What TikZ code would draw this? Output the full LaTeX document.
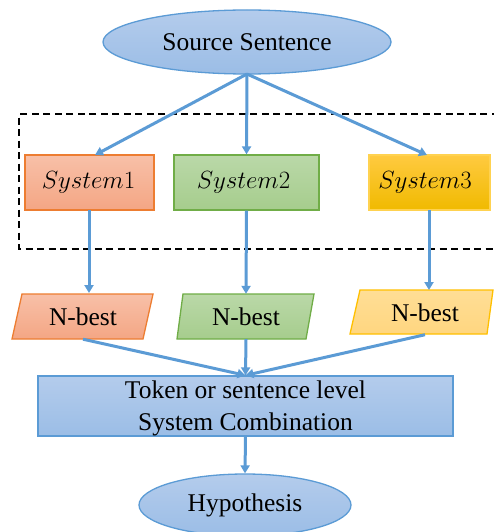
\documentclass[tikz,border=0pt]{standalone}
\usepackage{fontspec}
\setmainfont{Liberation Serif}
\usetikzlibrary{arrows.meta,shapes.geometric}
\definecolor{arr}{RGB}{91,155,213}
\definecolor{bluetop}{RGB}{180,204,236}
\definecolor{bluebot}{RGB}{155,189,230}
\definecolor{orline}{RGB}{237,125,49}
\definecolor{ortop}{RGB}{248,192,168}
\definecolor{orbot}{RGB}{244,166,132}
\definecolor{grline}{RGB}{112,173,71}
\definecolor{grtop}{RGB}{186,216,168}
\definecolor{grbot}{RGB}{166,205,141}
\definecolor{yeline}{RGB}{255,210,80}
\definecolor{yetop}{RGB}{255,202,64}
\definecolor{yebot}{RGB}{240,186,0}
\definecolor{ltline}{RGB}{255,192,0}
\definecolor{lttop}{RGB}{255,222,150}
\definecolor{ltbot}{RGB}{255,214,128}
\tikzset{
  conn/.style={draw=arr, line width=3pt, -{Triangle[length=8pt,width=9pt]}},
  blueshape/.style={draw=arr, line width=1.3pt, top color=bluetop, bottom color=bluebot},
  bigtxt/.style={font=\fontsize{25.5}{32}\selectfont, text=black},
  systxt/.style={font=\fontsize{26}{30}\selectfont, text=black},
  holder/.style={inner sep=0pt, minimum width=100pt},
}
\begin{document}
\begin{tikzpicture}[x=1pt,y=-1pt]
\path[use as bounding box, clip] (0,0) rectangle (494,532);
\fill[white] (0,0) rectangle (494,532);

% Source sentence
\node[ellipse, blueshape, bigtxt, minimum width=288pt, minimum height=64pt, inner sep=0pt] (src) at (247,42) {Source Sentence};

% dashed box
\draw[line width=1.3pt, dash pattern=on 7pt off 4.5pt] (510,114) -- (19,114) -- (19,249) -- (510,249);

% Systems
\node[draw=orline, line width=1.3pt, top color=ortop, bottom color=orbot, minimum width=129pt, minimum height=55pt, inner sep=0pt] (s1) at (89.5,182.5) {};
\node[systxt] at (88.5,182.5) {$System1$};
\node[draw=grline, line width=1.3pt, top color=grtop, bottom color=grbot, minimum width=145pt, minimum height=55pt, inner sep=0pt] (s2) at (246.5,182.5) {};
\node[systxt] at (243.5,182.5) {$System2$};
\node[draw=yeline, line width=1.3pt, top color=yetop, bottom color=yebot, minimum width=121pt, minimum height=55pt, inner sep=0pt] (s3) at (429.5,182.5) {};
\node[systxt] at (425,182.5) {$System3$};

% source arrows
\coordinate (srcb) at (247,74);
\draw[conn] (srcb) -- (95,155);
\draw[conn] (srcb) -- (s2.north);
\draw[conn] (srcb) -- (427,155);

% N-best parallelograms
\draw[draw=orline, line width=1.3pt, top color=ortop, bottom color=orbot] (22,294) -- (153,294) -- (143,339) -- (12,339) -- cycle;
\draw[draw=grline, line width=1.3pt, top color=grtop, bottom color=grbot] (183,294) -- (314,294) -- (306,339) -- (177,339) -- cycle;
\draw[draw=ltline, line width=1.3pt, top color=lttop, bottom color=ltbot] (360,290) -- (493,290) -- (487,334) -- (350,334) -- cycle;
\node[holder, bigtxt, minimum height=45pt] (n1) at (83,316.5) {N-best};
\node[holder, bigtxt, minimum height=45pt] (n2) at (246,316.5) {N-best};
\node[holder, bigtxt, minimum height=44pt] (n3) at (425,312.5) {N-best};

\draw[conn] (89,210) -- (89,293);
\draw[conn] (s2.south) -- (n2.north);
\draw[conn] (429,210) -- (429,290);

% Combination box
\node[draw=arr, line width=1.3pt, top color=bluetop, bottom color=bluebot, minimum width=415pt, minimum height=60pt, inner sep=0pt] (comb) at (245.5,406) {};
\node[bigtxt, align=center, inner sep=0pt] at (245.5,408) {Token or sentence level\\System Combination};

\draw[conn] (n1.south) -- (comb.north);
\draw[conn] (n2.south) -- (comb.north);
\draw[conn] (n3.south) -- (comb.north);

% Hypothesis
\node[ellipse, blueshape, bigtxt, minimum width=212pt, minimum height=62pt, inner sep=0pt] (hyp) at (245,505) {Hypothesis};
\draw[conn] (comb.south) -- (hyp.north);
\end{tikzpicture}
\end{document}
